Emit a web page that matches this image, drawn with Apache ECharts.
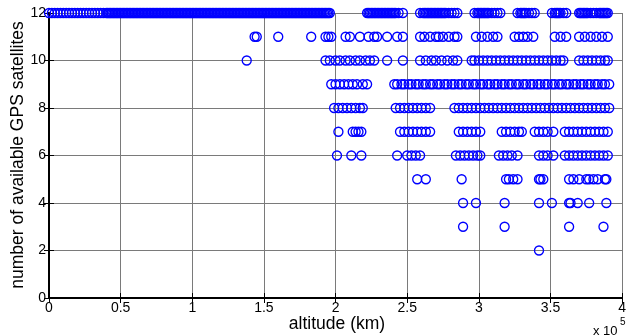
<!DOCTYPE html>
<html><head><meta charset="utf-8">
<script src="https://cdn.jsdelivr.net/npm/echarts@6/dist/echarts.min.js"></script>
<style>html,body{margin:0;padding:0;background:#fff}#c{width:629px;height:335px}</style>
</head><body><div id="c"></div>
<script>
// altitude in units of 1e5 km, grouped by number of available GPS satellites
const row12 = [0,0.02,0.04,0.06,0.08,0.10,0.12,0.14,0.16,0.18,0.20,0.22,0.24,0.26,0.28,0.30,0.32,0.34,0.36,0.38,0.40,0.42,0.44,0.46,0.48,0.50,0.52,0.54,0.56,0.58,0.60,0.62,0.64,0.66,0.68,0.70,0.72,0.74,0.76,0.78,0.80,0.82,0.84,0.86,0.88,0.90,0.92,0.94,0.96,0.98,1.00,1.02,1.04,1.06,1.08,1.10,1.12,1.14,1.16,1.18,1.20,1.22,1.24,1.26,1.28,1.30,1.32,1.34,1.36,1.38,1.40,1.42,1.44,1.46,1.48,1.50,1.52,1.54,1.56,1.58,1.60,1.62,1.64,1.66,1.68,1.70,1.72,1.74,1.76,1.78,1.80,1.82,1.84,1.86,1.88,1.90,1.92,1.94,1.96,
  0.41,0.43,0.45,0.47,0.49,0.51,0.53,0.55,0.57,0.59,0.61,0.63,0.65,0.67,0.69,0.71,0.73,0.75,0.77,0.79,0.81,0.83,0.85,0.87,0.89,0.91,0.93,0.95,0.97,0.99,1.01,1.03,1.05,1.07,1.09,1.11,1.13,1.15,1.17,1.19,1.21,1.23,1.25,1.27,1.29,1.31,1.33,1.35,1.37,1.39,1.41,1.43,1.45,1.47,1.49,1.51,1.53,1.55,1.57,1.59,1.61,1.63,1.65,1.67,1.69,1.71,1.73,1.75,1.77,1.79,1.81,1.83,1.85,1.87,1.89,1.91,1.93,1.95,
  2.22,2.23,2.24,2.25,2.26,2.27,2.28,2.29,2.30,2.31,2.32,2.33,2.34,2.35,2.36,2.37,2.38,2.39,2.40,2.41,2.42,2.44,2.47,
  2.59,2.61,2.62,2.63,2.64,2.65,2.66,2.67,2.68,2.69,2.70,2.71,2.72,2.73,2.74,2.75,2.76,2.77,2.79,2.81,2.83,2.85,
  2.97,2.99,3.00,3.01,3.02,3.03,3.04,3.05,3.06,3.07,3.09,3.11,3.13,3.15,
  3.27,3.29,3.30,3.31,3.32,3.33,3.35,3.37,3.39,
  3.51,3.53,3.54,3.55,3.56,3.57,3.59,3.61,
  3.70,3.71,3.72,3.73,3.74,3.75,3.76,3.78,3.80,3.82,3.84,3.85,3.86,3.87,3.88,3.89,3.90];
const row11 = [1.435,1.45,1.60,1.83,1.93,1.95,1.97,2.07,2.10,2.17,2.23,2.27,2.29,2.36,2.43,2.47,2.59,2.62,2.66,2.70,2.72,2.75,2.79,2.83,2.85,2.98,3.02,3.06,3.10,3.13,3.25,3.28,3.31,3.34,3.38,3.53,3.57,3.61,3.70,3.74,3.78,3.82,3.86,3.90];
const row10 = [1.38,1.93,1.96,2.00,2.03,2.07,2.10,2.14,2.17,2.21,2.24,2.27,2.36,2.47,2.59,2.63,2.67,2.70,2.74,2.78,2.82,2.85,2.95,2.97,3.00,3.03,3.06,3.09,3.12,3.15,3.18,3.21,3.24,3.27,3.30,3.33,3.36,3.39,3.42,3.45,3.48,3.51,3.54,3.57,3.59,3.70,3.73,3.76,3.79,3.82,3.85,3.88,3.90];
const row9 = [1.97,2.00,2.03,2.06,2.09,2.12,2.15,2.19,2.22,2.41,2.43,2.46,2.48,2.51,2.53,2.56,2.58,2.61,2.63,2.66,2.68,2.71,2.73,2.76,2.78,2.81,2.83,2.86,2.88,2.91,2.93,2.96,2.98,3.01,3.03,3.06,3.08,3.11,3.13,3.16,3.18,3.21,3.23,3.26,3.28,3.31,3.33,3.36,3.38,3.41,3.43,3.46,3.48,3.51,3.53,3.56,3.58,3.61,3.63,3.66,3.68,3.71,3.73,3.76,3.78,3.81,3.83,3.86,3.88,3.91];
const row8 = [1.99,2.02,2.05,2.08,2.11,2.14,2.17,2.19,2.42,2.45,2.48,2.51,2.54,2.57,2.60,2.63,2.66,2.83,2.86,2.89,2.92,2.95,2.98,3.01,3.04,3.07,3.10,3.13,3.16,3.19,3.22,3.25,3.28,3.31,3.34,3.37,3.40,3.43,3.46,3.49,3.52,3.55,3.58,3.61,3.64,3.67,3.70,3.73,3.76,3.79,3.82,3.85,3.88,3.91];
const row7 = [2.02,2.12,2.14,2.16,2.18,2.45,2.48,2.51,2.54,2.57,2.60,2.63,2.66,2.86,2.89,2.92,2.95,2.98,3.01,3.16,3.19,3.22,3.25,3.28,3.30,3.39,3.42,3.45,3.48,3.52,3.60,3.63,3.66,3.69,3.72,3.75,3.78,3.81,3.84,3.87,3.90];
const row6 = [2.01,2.11,2.18,2.43,2.50,2.53,2.56,2.59,2.84,2.87,2.90,2.93,2.96,2.99,3.01,3.14,3.17,3.20,3.23,3.27,3.42,3.45,3.48,3.52,3.60,3.63,3.66,3.69,3.72,3.75,3.78,3.81,3.84,3.87,3.90];
const row5 = [2.57,2.63,2.88,3.19,3.21,3.24,3.27,3.42,3.43,3.45,3.63,3.66,3.70,3.75,3.77,3.80,3.83,3.88,3.89];
const row4 = [2.89,2.98,3.18,3.42,3.51,3.63,3.64,3.69,3.77,3.89];
const row3 = [2.89,3.18,3.63,3.87];
const row2 = [3.42];

const xTickLabels = ['0','0.5','1','1.5','2','2.5','3','3.5','4'];
const yTickLabels = ['0','2','4','6','8','10','12'];

const rows = [[12,row12],[11,row11],[10,row10],[9,row9],[8,row8],[7,row7],[6,row6],[5,row5],[4,row4],[3,row3],[2,row2]];
const points = [];
rows.forEach(([y, xs]) => xs.forEach(x => points.push([x, y])));

const FONT = "'Liberation Sans', Arial, Helvetica, sans-serif";
const chart = echarts.init(document.getElementById('c'), null, {renderer: 'canvas'});
const axisLine = {show: true, lineStyle: {color: '#000', width: 2}};
const tick = {show: true, inside: true, length: 5, lineStyle: {color: '#000', width: 1}};
chart.setOption({
  animation: false,
  backgroundColor: '#fff',
  grid: {left: 49, right: 3, top: 13, bottom: 37, containLabel: false},
  xAxis: [{
    type: 'value', min: 0, max: 4, interval: 0.5, position: 'bottom',
    axisLine: axisLine, axisTick: tick,
    axisLabel: {color: '#000', fontSize: 14, fontFamily: FONT, margin: 3,
      formatter: v => xTickLabels[Math.round(v / 0.5)] },
    splitLine: {show: true, lineStyle: {color: '#7a7a7a', width: 1}}
  }, {
    type: 'value', min: 0, max: 4, interval: 0.5, position: 'top',
    axisLine: axisLine, axisTick: tick, axisLabel: {show: false}, splitLine: {show: false}
  }],
  yAxis: [{
    type: 'value', min: 0, max: 12, interval: 2, position: 'left',
    axisLine: axisLine, axisTick: tick,
    axisLabel: {color: '#000', fontSize: 14, fontFamily: FONT, margin: 3,
      formatter: v => yTickLabels[Math.round(v / 2)] },
    splitLine: {show: true, lineStyle: {color: '#7a7a7a', width: 1}}
  }, {
    type: 'value', min: 0, max: 12, interval: 2, position: 'right',
    axisLine: axisLine, axisTick: tick, axisLabel: {show: false}, splitLine: {show: false}
  }],
  series: [{
    type: 'scatter',
    data: points,
    symbol: 'circle',
    symbolSize: 9,
    clip: false,
    itemStyle: {color: 'rgba(0,0,0,0)', borderColor: '#0000ff', borderWidth: 1.35, opacity: 1},
    emphasis: {disabled: true}
  }],
  graphic: [
    {type: 'text', x: 18, y: 155, rotation: Math.PI / 2,
      style: {text: 'number of available GPS satellites', font: '17.5px ' + FONT, fill: '#000', align: 'center', verticalAlign: 'middle'}},
    {type: 'text', x: 337, y: 324,
      style: {text: 'altitude (km)', font: '17.5px ' + FONT, fill: '#000', align: 'center', verticalAlign: 'middle'}},
    {type: 'text', x: 593, y: 331,
      style: {text: 'x 10', font: '13px ' + FONT, fill: '#000', align: 'left', verticalAlign: 'middle'}},
    {type: 'text', x: 620, y: 322,
      style: {text: '5', font: '10px ' + FONT, fill: '#000', align: 'left', verticalAlign: 'middle'}}
  ]
});
</script></body></html>
